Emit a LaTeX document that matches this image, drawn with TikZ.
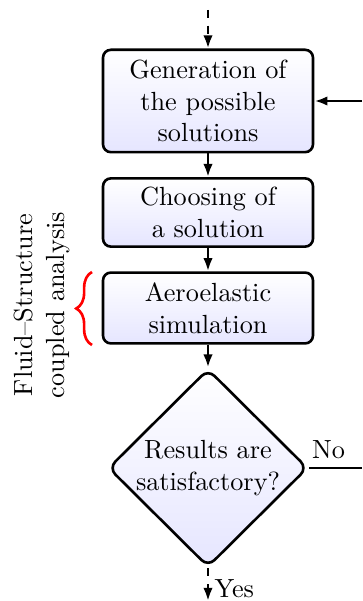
\documentclass[tikz,border=0pt]{standalone}
\usetikzlibrary{shapes.geometric,arrows.meta,decorations.pathreplacing}
\begin{document}
\begin{tikzpicture}[x=0.381pt,y=-0.381pt,
  flowbox/.style={draw,line width=1pt,rounded corners=3pt,top color=white,bottom color=blue!10,
    minimum width=80pt,align=center,inner sep=0pt},
  decide/.style={draw,line width=1pt,diamond,rounded corners=3.5pt,top color=white,bottom color=blue!10,
    minimum width=76pt,minimum height=75.5pt,inner sep=0pt},
  flow/.style={line width=1pt,-{Latex[length=5pt,width=3.6pt]}},
  flowdash/.style={flow,dashed}]
  \useasboundingbox (0,0) rectangle (362,601);

  % process boxes
  \node[flowbox,minimum height=39pt] (gen) at (208,101) {Generation of\\the possible\\solutions};
  \node[flowbox,minimum height=26pt] (choose) at (208,212.5) {Choosing of\\a solution};
  \node[flowbox,minimum height=27pt] (aero) at (208,308) {Aeroelastic\\simulation};
  \node[decide,label={[align=center]center:Results are\\satisfactory?}] (dec) at (208,468) {};

  % entry and exit
  \coordinate (start) at (208,10);
  \coordinate (finish) at (208,601);
  \coordinate (loopout) at (362,468);
  \coordinate (loopin) at (362,101);

  \draw[flowdash] (start) -- (gen.north);
  \draw[flow] (gen) -- (choose);
  \draw[flow] (choose) -- (aero);
  \draw[flow] (aero) -- (dec);
  \draw[flowdash] (dec.south) -- node[pos=0.62,right,inner sep=2pt] {Yes} (finish);
  \draw[line width=1pt] (dec.east) -- node[pos=0.37,above,inner sep=3pt] {No} (loopout);
  \draw[flow] (loopin) -- (gen.east);

  % coupled analysis bracket
  \coordinate (bt) at (92,272);
  \coordinate (bb) at (92,345);
  \draw[red,line width=1pt,decorate,decoration={brace,amplitude=6pt}] (bb) -- (bt);
  \node[rotate=90,align=center] (fsi) at (42,305) {Fluid--Structure\\coupled analysis};
\end{tikzpicture}
\end{document}
